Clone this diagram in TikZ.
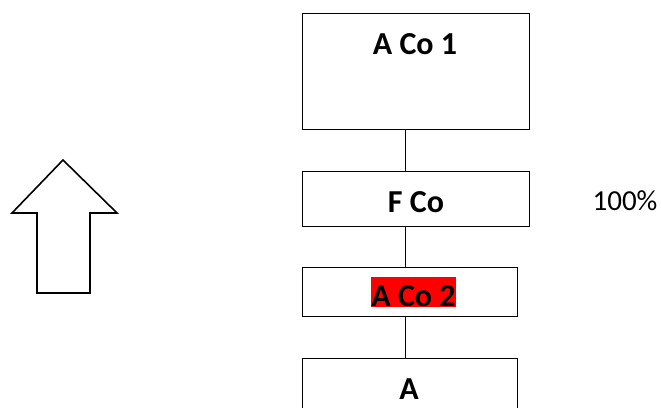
\documentclass[tikz,border=0pt]{standalone}
\usepackage{fontspec}
\setmainfont{Carlito}
\begin{document}
\begin{tikzpicture}[x=1pt,y=-1pt,
  box/.style={draw=black,line width=1pt,minimum width=#1,minimum height=0pt,inner sep=0pt,anchor=north west},
  lbl/.style={font=\fontsize{32}{34}\selectfont\bfseries,anchor=base,inner sep=0pt},
  conn/.style={draw=black,line width=0.9pt}]
\useasboundingbox (0,0) rectangle (661,407);
\begin{scope}
\clip (0,0) rectangle (661,407);
\node[box=227pt,minimum height=116pt] (b1) at (302,13) {};
\node[box=227pt,minimum height=55pt] (b2) at (302,171) {};
\node[box=215pt,minimum height=49pt] (b3) at (302,267) {};
\node[box=215pt,minimum height=60pt] (b4) at (302,358) {};
\coordinate (cx) at (405,0);
\draw[conn] (b1.south -| cx) -- (b2.north -| cx);
\draw[conn] (b2.south -| cx) -- (b3.north -| cx);
\draw[conn] (b3.south -| cx) -- (b4.north -| cx);
\node[lbl] (t1) at (415,54) {A Co 1};
\node[lbl] (t2) at (416,212) {F Co};
\node[lbl,fill=red,text height=29pt,text depth=0.7pt,inner xsep=0.5pt] (t3) at (413.5,306) {A Co 2};
\node[lbl] (t4) at (409,399) {A};
\node[font=\fontsize{29}{31}\selectfont,anchor=base,inner sep=0pt] (pct) at (625,210) {100\%};
\draw[line width=1.6pt,line join=miter] (63,160) -- (117,213) -- (90,213) -- (90,293) -- (37,293) -- (37,213) -- (12,213) -- cycle;
\end{scope}
\end{tikzpicture}
\end{document}
